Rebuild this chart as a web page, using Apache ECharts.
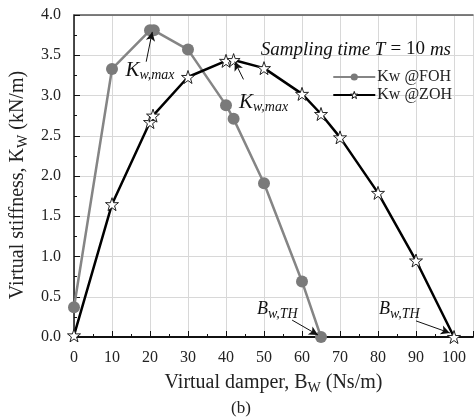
<!DOCTYPE html>
<html>
<head>
<meta charset="utf-8">
<script src="https://cdn.jsdelivr.net/npm/echarts@6/dist/echarts.min.js"></script>
<style>
  html, body { margin: 0; padding: 0; background: #fff; }
  #chart { width: 476px; height: 418px; }
</style>
</head>
<body>
<div id="chart"></div>
<script>
// damper B_w (Ns/m) vs stiffness K_w (kN/m)
let fohB = [0, 10, 20, 21, 30, 40, 42, 50, 60, 65];
let fohK = [0.37, 3.33, 3.81, 3.81, 3.57, 2.88, 2.71, 1.91, 0.69, 0.0];
let zohB = [0, 10, 20, 20.8, 30, 40, 42, 50, 60, 65, 70, 80, 90, 100];
let zohK = [0.02, 1.65, 2.67, 2.75, 3.23, 3.43, 3.44, 3.34, 3.02, 2.77, 2.48, 1.79, 0.95, 0.0];

// annotation text centres and arrows (data coords)
let kmaxText = [[20.0, 3.31], [49.9, 2.91]];
let bthText = [[53.5, 0.34], [85.6, 0.34]];
let arrows = [
    [[19.0, 3.42], [20.6, 3.79]],
    [[44.6, 3.20], [42.3, 3.42]],
    [[57.4, 0.21], [64.2, 0.025]],
    [[90.0, 0.20], [98.9, 0.05]]
];

var serif = "'Liberation Serif', 'Times New Roman', serif";
var starPath = 'path://M50,0 L61.8,35.1 L97.6,34.5 L69.1,56.7 L79.4,90.5 L50,70 L20.6,90.5 L30.9,56.7 L2.4,34.5 L38.2,35.1 Z';

function pairs(xs, ys) {
    return xs.map(function (x, i) { return [x, ys[i]]; });
}

var subRich = {
    sub: { fontFamily: serif, fontSize: 14, color: '#222', padding: [10, 0, 0, 0] }
};
var annRich = {
    k: { fontFamily: serif, fontStyle: 'italic', fontSize: 21, color: '#111' },
    b: { fontFamily: serif, fontStyle: 'italic', fontSize: 18, color: '#111' },
    s: { fontFamily: serif, fontStyle: 'italic', fontSize: 14, color: '#111', padding: [9, 0, 0, 0] }
};

var annPoints = [];
kmaxText.forEach(function (p) {
    annPoints.push({ coord: p, label: { formatter: '{k|K}{s|w,max}' } });
});
bthText.forEach(function (p) {
    annPoints.push({ coord: p, label: { formatter: '{b|B}{s|w,TH}' } });
});

var chart = echarts.init(document.getElementById('chart'));

var option = {
    animation: false,
    backgroundColor: '#fff',
    title: {
        text: '{i|Sampling time T} {n|= 10} {i|ms}',
        right: 20,
        top: 35,
        textStyle: {
            fontWeight: 'normal',
            rich: {
                i: { fontFamily: serif, fontStyle: 'italic', fontWeight: 'normal', fontSize: 19, color: '#111' },
                n: { fontFamily: serif, fontWeight: 'normal', fontSize: 19, color: '#111' }
            }
        }
    },
    legend: {
        orient: 'vertical',
        right: 19,
        top: 64,
        itemWidth: 42,
        itemHeight: 9,
        itemGap: 2,
        textStyle: { fontFamily: serif, fontSize: 16, color: '#222', padding: [0, 0, 0, -3] },
        data: [
            { name: 'Kw @FOH' },
            { name: 'Kw @ZOH', itemStyle: { color: '#fff', borderColor: '#111', borderWidth: 1 } }
        ]
    },
    grid: { left: 74, right: 0, top: 15, bottom: 81 },
    xAxis: [{
        type: 'value',
        min: 0,
        max: 105,
        interval: 10,
        name: 'Virtual damper, B{sub|W} (Ns/m)',
        nameLocation: 'middle',
        nameGap: 34,
        nameTextStyle: { fontFamily: serif, fontSize: 20, color: '#222', rich: subRich },
        axisLine: { lineStyle: { color: '#111', width: 2 } },
        axisTick: { inside: true, length: 6, lineStyle: { color: '#111' } },
        minorTick: { show: true, splitNumber: 2, length: 3, lineStyle: { color: '#111' } },
        axisLabel: {
            fontFamily: serif, fontSize: 16, color: '#222', margin: 13,
            formatter: function (v) { return v > 100 ? '' : v; }
        },
        splitLine: { lineStyle: { color: '#d8d8d8', width: 1 } }
    }, {
        type: 'value',
        position: 'top',
        min: 0,
        max: 105,
        axisLine: { show: true, lineStyle: { color: '#555', width: 1.5 } },
        axisTick: { show: false },
        axisLabel: { show: false },
        splitLine: { show: false }
    }],
    yAxis: {
        type: 'value',
        min: 0,
        max: 4,
        interval: 0.5,
        name: 'Virtual stiffness, K{sub|W} (kN/m)',
        nameLocation: 'middle',
        nameGap: 39,
        nameTextStyle: { fontFamily: serif, fontSize: 20, color: '#222', rich: subRich, padding: [0, 0, 0, -18] },
        axisLine: { show: true, lineStyle: { color: '#111', width: 1.5 } },
        axisTick: { inside: true, length: 6, lineStyle: { color: '#111' } },
        minorTick: { show: true, splitNumber: 2, length: 3, lineStyle: { color: '#111' } },
        axisLabel: {
            fontFamily: serif, fontSize: 16, color: '#222', margin: 13,
            formatter: function (v) { return v.toFixed(1); }
        },
        splitLine: { lineStyle: { color: '#d8d8d8', width: 1 } }
    },
    series: [
        {
            name: 'Kw @FOH',
            type: 'line',
            data: pairs(fohB, fohK),
            symbol: 'circle',
            symbolSize: 12,
            lineStyle: { color: '#858585', width: 2.5 },
            itemStyle: { color: '#7a7a7a', borderWidth: 0 },
            z: 3
        },
        {
            name: 'Kw @ZOH',
            type: 'line',
            data: pairs(zohB, zohK),
            symbol: starPath,
            symbolSize: 13,
            lineStyle: { color: '#000', width: 2.5 },
            itemStyle: { color: '#fff', borderColor: '#222', borderWidth: 1 },
            z: 4,
            markLine: {
                silent: true,
                symbol: ['none', 'arrow'],
                symbolSize: [7, 9],
                label: { show: false },
                lineStyle: { color: '#111', width: 1, type: 'solid' },
                data: arrows.map(function (a) {
                    return [{ coord: a[0] }, { coord: a[1] }];
                })
            },
            markPoint: {
                silent: true,
                symbol: 'circle',
                symbolSize: 0,
                label: { show: true, position: 'inside', rich: annRich },
                data: annPoints
            }
        }
    ],
    graphic: [{
        type: 'text',
        left: 231,
        top: 400,
        style: { text: '(b)', font: '17px ' + serif, fill: '#222' }
    }]
};

chart.setOption(option);
</script>
</body>
</html>
